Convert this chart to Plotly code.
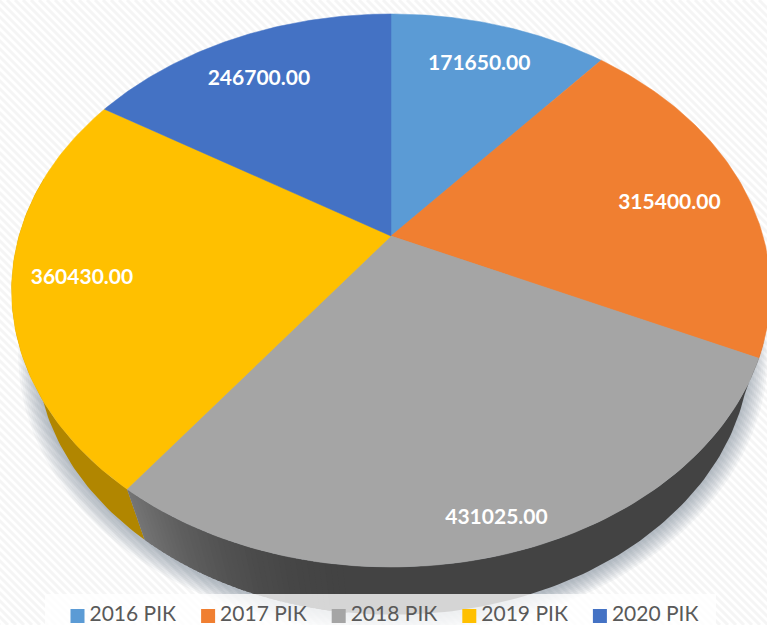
import numpy as np
import plotly.graph_objects as go

categories = ["2016 РІК", "2017 РІК", "2018 РІК", "2019 РІК", "2020 РІК"]
values = [171650, 315400, 431025, 360430, 246700]
value_labels = ["171650.00", "315400.00", "431025.00", "360430.00", "246700.00"]

colors = ["#5B9BD5", "#F07F31", "#A5A5A5", "#FFC000", "#4472C4"]
side_colors = {2: "#434343", 3: "#B18600"}
label_radius = [0.80, 0.78, 0.903, 0.82, 0.788]
label_nudge = [-0.35, 2.3, -0.9, 0.4, -1.6]

W, H = 767, 625
K = 0.197
TOP = dict(cx=391, cy=236, a=372, b=265.8)
LOW = dict(cx=393, cy=296, a=350, b=256)
LEGEND_X0, LEGEND_STEP, LEGEND_Y = 77.5, 130.6, 616
LEGEND_TEXT_GAP = 12
STRIP = dict(x0=45, x1=716, y0=594, y1=625)
FONT = "Lato, Open Sans, sans-serif"


def project(theta_deg, r=1.0, plane=TOP, grow=1.0, dy=0.0):
    t = np.radians(theta_deg)
    u, v = r * np.sin(t), -r * np.cos(t)
    w = 1 - K * v
    return plane["cx"] + grow * plane["a"] * u / w, plane["cy"] + dy + grow * plane["b"] * v / w


total = sum(values)
edges = np.concatenate([[0], np.cumsum(values) / total * 360])
fig = go.Figure()

# Soft shadow under the pie
full = np.linspace(0, 360, 361)
for grow in np.linspace(1.05, 1.0, 10):
    x, y = project(full, plane=LOW, grow=grow, dy=3)
    fig.add_trace(go.Scatter(x=x, y=y, mode="lines", fill="toself", line=dict(width=0),
                             fillcolor="rgba(110,115,135,0.06)", hoverinfo="skip", showlegend=False))


def side_strip(t0, t1, color):
    th = np.linspace(t0, t1, max(int(abs(t1 - t0)) + 2, 3))
    xa, ya = project(th)
    xb, yb = project(th[::-1], plane=LOW)
    fig.add_trace(go.Scatter(x=np.r_[xa, xb], y=np.r_[ya, yb], mode="lines", fill="toself",
                             line=dict(width=0, color=color), fillcolor=color,
                             hoverinfo="skip", showlegend=False))


# Extruded side: yellow, then grey drawn as one run of thin strips fading to lighter at its left end
side_strip(edges[3], 283, side_colors[3])
fade_from = 186.0
side_strip(edges[2] - 4, fade_from + 1, side_colors[2])
fade = np.arange(fade_from, edges[3] + 0.75, 0.75)
for t0, t1 in zip(fade[:-1], fade[1:]):
    f = max(0.0, (t0 - fade_from) / (edges[3] - fade_from))
    g = 0x43 + (0x76 - 0x43) * f ** 1.8
    side_strip(min(t0, edges[3]), min(t1 + 0.5, edges[3]), f"rgb({g:.1f},{g:.1f},{g:.1f})")

# Top faces
for i, name in enumerate(categories):
    th = np.linspace(edges[i], edges[i + 1], 90)
    x, y = project(th)
    x0, y0 = project(0.0, r=0.0)
    fig.add_trace(go.Scatter(x=np.r_[x0, x, x0], y=np.r_[y0, y, y0], mode="lines", fill="toself",
                             line=dict(width=0.5, color=colors[i]), fillcolor=colors[i],
                             name=name, hoverinfo="name", showlegend=False))

# Value labels
mids = (edges[:-1] + edges[1:]) / 2 + np.array(label_nudge)
lx, ly = project(mids, r=np.array(label_radius))
fig.add_trace(go.Scatter(x=lx, y=ly + 2.5, mode="text", text=value_labels, textposition="middle center",
                         textfont=dict(family=FONT, size=21, color="white", weight="bold"),
                         hoverinfo="skip", showlegend=False))

# Translucent legend strip, over the pie but under the legend entries
fig.add_trace(go.Scatter(
    x=[STRIP["x0"], STRIP["x1"], STRIP["x1"], STRIP["x0"], STRIP["x0"]],
    y=[STRIP["y0"], STRIP["y0"], STRIP["y1"], STRIP["y1"], STRIP["y0"]],
    mode="lines", fill="toself", line=dict(width=0), fillcolor="rgba(255,255,255,0.78)",
    hoverinfo="skip", showlegend=False))

# Legend entries
legend_x = [LEGEND_X0 + i * LEGEND_STEP for i in range(len(categories))]
for i, name in enumerate(categories):
    fig.add_trace(go.Scatter(x=[legend_x[i]], y=[LEGEND_Y], mode="markers", name=name,
                             hoverinfo="name", showlegend=False,
                             marker=dict(symbol="square", size=14, color=colors[i])))
fig.add_trace(go.Scatter(x=[v + LEGEND_TEXT_GAP for v in legend_x], y=[LEGEND_Y - 0.5] * len(categories),
                         mode="text", text=categories, textposition="middle right", hoverinfo="skip",
                         showlegend=False, cliponaxis=False,
                         textfont=dict(family=FONT, size=21, color="#595959")))

# Diagonal striped background
stripe_path = " ".join(f"M {c} 0 L {c + H} {H}" for c in range(-H, W, 8))
shapes = [dict(type="path", path=stripe_path, xref="x", yref="y", layer="below",
               line=dict(color="#F5F5F5", width=3))]

fig.update_layout(
    width=W, height=H, margin=dict(l=0, r=0, t=0, b=0),
    paper_bgcolor="white", plot_bgcolor="white",
    xaxis=dict(range=[0, W], visible=False, fixedrange=True),
    yaxis=dict(range=[H, 0], visible=False, fixedrange=True),
    shapes=shapes, showlegend=False,
)
fig.write_html("out.html", config=dict(displayModeBar=False),
               post_script="document.body.style.margin='0';document.documentElement.style.overflow='hidden';")
